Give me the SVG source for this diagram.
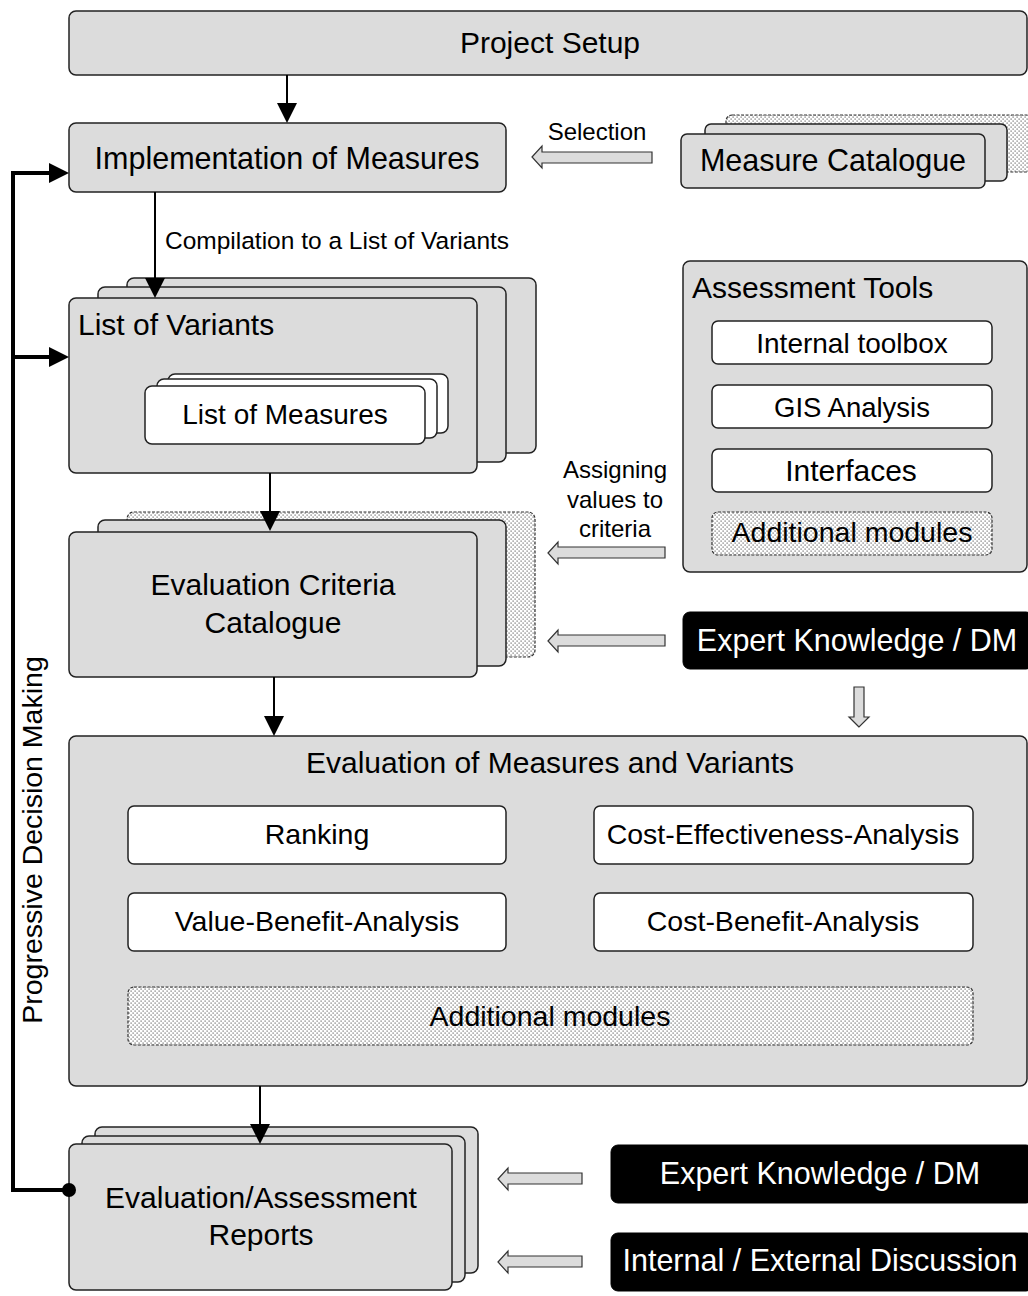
<svg xmlns="http://www.w3.org/2000/svg" width="1028" height="1296" viewBox="0 0 1028 1296">
<style>
text{font-family:"Liberation Sans",Arial,sans-serif;fill:#000}
.g{fill:#dcdcdc;stroke:#222;stroke-width:1.5}
.w{fill:#fff;stroke:#222;stroke-width:1.5}
.d{fill:url(#dots);stroke:#333;stroke-width:1.2;stroke-dasharray:3 1.5}
.b{fill:#000;stroke:#000}
.h{fill:#dcdcdc;stroke:#333;stroke-width:1.2}
.c{text-anchor:middle}
.wt{fill:#fff}
.ln{stroke:#000;stroke-width:2;fill:none}
.thk{stroke:#000;stroke-width:4;fill:none}
</style>
<defs>
<pattern id="dots" width="4" height="4" patternUnits="userSpaceOnUse">
<rect width="4" height="4" fill="#fff"/>
<rect x="0.5" y="0.5" width="1.2" height="1.2" fill="#666"/>
<rect x="2.5" y="2.5" width="1.2" height="1.2" fill="#666"/>
</pattern>
<marker id="ah" markerWidth="20" markerHeight="20" refX="10" refY="10" orient="auto" markerUnits="userSpaceOnUse">
<path d="M0,0 L20,10 L0,20 z" fill="#000"/>
</marker>
</defs>

<g id="project-setup">
<rect class="g" x="69" y="11" width="958" height="64" rx="7"/>
<text class="c" x="550" y="53" font-size="30">Project Setup</text>
</g>

<g id="implementation">
<rect class="g" x="69" y="123" width="437" height="69" rx="7"/>
<text class="c" x="287" y="169" font-size="30.5">Implementation of Measures</text>
</g>

<g id="measure-catalogue">
<rect class="d" x="726" y="115" width="310" height="57" rx="6"/>
<rect class="g" x="705" y="124" width="302" height="57" rx="6"/>
<rect class="g" x="681" y="134" width="304" height="54" rx="6"/>
<text class="c" x="833" y="171" font-size="30.5">Measure Catalogue</text>
</g>

<g id="selection-label">
<text class="c" x="597" y="140" font-size="24">Selection</text>
</g>

<g id="list-of-variants">
<rect class="g" x="127" y="278" width="409" height="175" rx="7"/>
<rect class="g" x="98" y="287" width="408" height="175" rx="7"/>
<rect class="g" x="69" y="298" width="408" height="175" rx="7"/>
<text x="78" y="335" font-size="30">List of Variants</text>
</g>

<g id="list-of-measures">
<rect class="w" x="168" y="374" width="280" height="59" rx="7"/>
<rect class="w" x="157" y="379" width="280" height="59" rx="7"/>
<rect class="w" x="145" y="386" width="280" height="58" rx="7"/>
<text class="c" x="285" y="424" font-size="28">List of Measures</text>
</g>

<g id="assessment-tools">
<rect class="g" x="683" y="261" width="344" height="311" rx="7"/>
<text x="692" y="298" font-size="30">Assessment Tools</text>
<rect class="w" x="712" y="321" width="280" height="43" rx="6"/>
<text class="c" x="852" y="353" font-size="28">Internal toolbox</text>
<rect class="w" x="712" y="385" width="280" height="43" rx="6"/>
<text class="c" x="852" y="417" font-size="27.5">GIS Analysis</text>
<rect class="w" x="712" y="449" width="280" height="43" rx="6"/>
<text class="c" x="851" y="481" font-size="30">Interfaces</text>
<rect class="d" x="712" y="512" width="280" height="43" rx="6"/>
<text class="c" x="852" y="542" font-size="28.5">Additional modules</text>
</g>

<g id="assigning-label">
<text class="c" x="615" y="478" font-size="24">Assigning</text>
<text class="c" x="615" y="508" font-size="24">values to</text>
<text class="c" x="615" y="537" font-size="24">criteria</text>
</g>

<g id="evaluation-criteria">
<rect class="d" x="127" y="512" width="408" height="145" rx="7"/>
<rect class="g" x="98" y="520" width="408" height="146" rx="7"/>
<rect class="g" x="69" y="532" width="408" height="145" rx="7"/>
<text class="c" x="273" y="595" font-size="30">Evaluation Criteria</text>
<text class="c" x="273" y="633" font-size="30">Catalogue</text>
</g>

<g id="expert-knowledge-1">
<rect class="b" x="683" y="612" width="350" height="57" rx="7"/>
<text class="c wt" x="857" y="651" font-size="30.5">Expert Knowledge / DM</text>
</g>

<g id="evaluation">
<rect class="g" x="69" y="736" width="958" height="350" rx="7"/>
<text class="c" x="550" y="773" font-size="30">Evaluation of Measures and Variants</text>
<rect class="w" x="128" y="806" width="378" height="58" rx="6"/>
<text class="c" x="317" y="844" font-size="28.5">Ranking</text>
<rect class="w" x="594" y="806" width="379" height="58" rx="6"/>
<text class="c" x="783" y="844" font-size="28.5">Cost-Effectiveness-Analysis</text>
<rect class="w" x="128" y="893" width="378" height="58" rx="6"/>
<text class="c" x="317" y="931" font-size="28.5">Value-Benefit-Analysis</text>
<rect class="w" x="594" y="893" width="379" height="58" rx="6"/>
<text class="c" x="783" y="931" font-size="28.5">Cost-Benefit-Analysis</text>
<rect class="d" x="128" y="987" width="845" height="58" rx="6"/>
<text class="c" x="550" y="1026" font-size="28.5">Additional modules</text>
</g>

<g id="reports">
<rect class="g" x="95" y="1127" width="383" height="146" rx="7"/>
<rect class="g" x="82" y="1136" width="383" height="146" rx="7"/>
<rect class="g" x="69" y="1144" width="383" height="146" rx="7"/>
<text class="c" x="261" y="1208" font-size="30">Evaluation/Assessment</text>
<text class="c" x="261" y="1245" font-size="30">Reports</text>
</g>

<g id="expert-knowledge-2">
<rect class="b" x="611" y="1145" width="422" height="58" rx="7"/>
<text class="c wt" x="820" y="1184" font-size="30.5">Expert Knowledge / DM</text>
</g>

<g id="internal-external">
<rect class="b" x="611" y="1233" width="422" height="58" rx="7"/>
<text class="c wt" x="820" y="1271" font-size="30.5">Internal / External Discussion</text>
</g>

<g id="progressive-label">
<text class="c" transform="translate(42,840) rotate(-90)" font-size="28.5">Progressive Decision Making</text>
</g>

<g id="connectors">
<line class="ln" x1="287" y1="75" x2="287" y2="113" marker-end="url(#ah)"/>
<line class="ln" x1="155" y1="192" x2="155" y2="288" marker-end="url(#ah)"/>
<text x="165" y="249" font-size="24.5">Compilation to a List of Variants</text>
<line class="ln" x1="270" y1="473" x2="270" y2="521" marker-end="url(#ah)"/>
<line class="ln" x1="274" y1="677" x2="274" y2="726" marker-end="url(#ah)"/>
<line class="ln" x1="260" y1="1086" x2="260" y2="1134" marker-end="url(#ah)"/>
<path class="thk" d="M69,1190 H13 V173 H59" marker-end="url(#ah)"/>
<path class="thk" d="M13,357 H59" marker-end="url(#ah)"/>
<circle cx="69" cy="1190" r="7" fill="#000"/>
<polygon class="h" points="532,157 542,146 542,152 652,152 652,163 542,163 542,168"/>
<polygon class="h" points="548,553 558,542 558,547 665,547 665,558 558,558 558,564"/>
<polygon class="h" points="548,641 558,630 558,635 665,635 665,646 558,646 558,652"/>
<polygon class="h" points="498,1179 508,1168 508,1173 582,1173 582,1184 508,1184 508,1190"/>
<polygon class="h" points="498,1262 508,1251 508,1256 582,1256 582,1267 508,1267 508,1273"/>
<polygon class="h" points="859,727 849,717 854,717 854,687 864,687 864,717 869,717"/>
</g>
</svg>
